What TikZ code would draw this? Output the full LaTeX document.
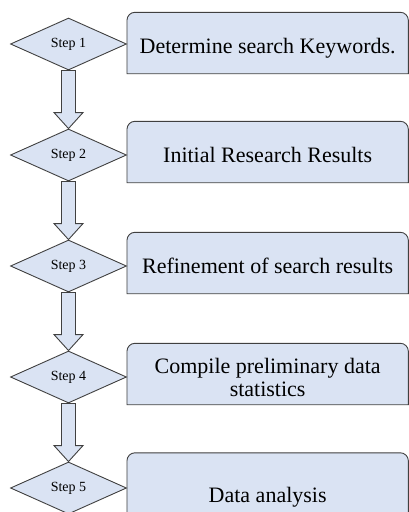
\documentclass[tikz,border=0pt]{standalone}
\usepackage{fontspec}
\setmainfont{Liberation Serif}
\usepackage{tikz}
\usetikzlibrary{calc,
                positioning,
                shapes.geometric,
                backgrounds}
\definecolor{stepfill}{RGB}{218,227,243}
\definecolor{stepline}{RGB}{64,64,64}

\begin{document}
\begin{tikzpicture}[
	stepdiamond/.style={diamond,draw=stepline,fill=stepfill,line width=0.9pt,inner sep=0pt,
		aspect=2.2,minimum width=116pt,minimum height=52pt,font=\fontsize{14}{16}\selectfont},
	stepbox/.style={inner sep=0pt,minimum width=281pt,align=center,text depth=0pt,
		font=\fontsize{22}{23}\selectfont},
	boxline/.style={draw=stepline,fill=stepfill,line width=0.9pt},
	blockarrow/.style={draw=stepline,fill=stepfill,line width=0.9pt,
		to path={([xshift=-7pt]\tikztostart) -- ([xshift=-7pt,yshift=16pt]\tikztotarget)
		-- ([xshift=-14.5pt,yshift=16pt]\tikztotarget) -- (\tikztotarget)
		-- ([xshift=14.5pt,yshift=16pt]\tikztotarget) -- ([xshift=7pt,yshift=16pt]\tikztotarget)
		-- ([xshift=7pt]\tikztostart) -- cycle}}]
	\useasboundingbox (0,0) rectangle (409pt,-512pt);
	% steps and their boxes
	\foreach \i/\dy/\h/\txt in {1/-2/61/{Determine search Keywords.},
	                            2/0/61/{Initial Research Results},
	                            3/0/61/{Refinement of search results},
	                            4/0/61/{Compile preliminary data\\statistics},
	                            5/-7/78/{Data analysis}}{%
	  \pgfmathsetmacro\yy{-44-111*(\i-1)}
	  \node[stepdiamond] (S-\i) at (68.5pt,\yy pt) {Step \i};
	  \node[stepbox,minimum height=\h pt,right=0pt of S-\i,yshift=\dy pt] (B-\i) {\txt};
	  \begin{scope}[on background layer]
	    \path[boxline] ([yshift=3pt]B-\i.south west) -- ([yshift=-5pt]B-\i.north west)
	      arc[start angle=180,end angle=90,radius=8pt] -- ([xshift=-8pt,yshift=3pt]B-\i.north east)
	      arc[start angle=90,end angle=0,radius=8pt] -- ([yshift=3pt]B-\i.south east) -- cycle;
	  \end{scope}
	}
	\foreach \x [count=\xi from 1] in {2,...,5}{%
	  \path (S-\xi.south) edge[blockarrow] (S-\x.north);
	}
\end{tikzpicture}
\end{document}
